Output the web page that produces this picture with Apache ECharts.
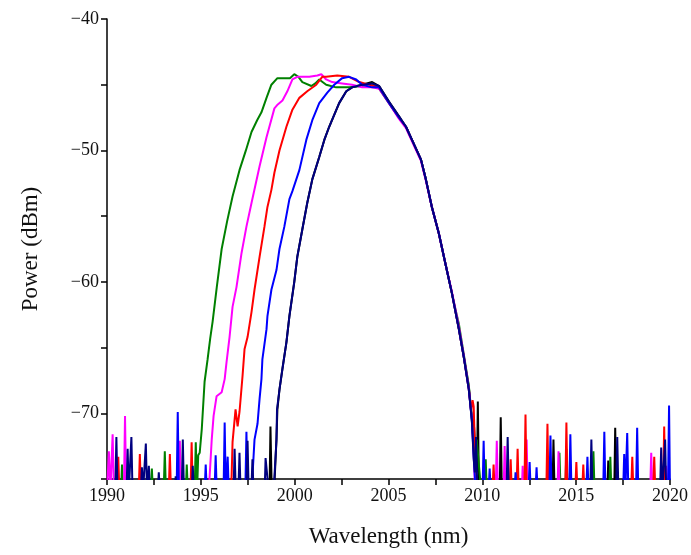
<!DOCTYPE html>
<html>
<head>
<meta charset="utf-8">
<script src="https://cdn.jsdelivr.net/npm/echarts@6/dist/echarts.min.js"></script>
<style>html,body{margin:0;padding:0;background:#fff;}#c{width:691px;height:555px;}</style>
</head>
<body>
<div id="c"></div>
<script>
// Axis settings / tick labels
const xTicks = [1990, 1995, 2000, 2005, 2010, 2015, 2020];
const yTickLabels = [-70, -60, -50, -40];

// Series data: [wavelength (nm), power (dBm)]; -76 = noise floor below the visible axis
const blackData = [
  [1990.0,-76],[1998.66,-76],[1998.71,-71.0],[1998.78,-76],[1998.9,-76],
  [1998.95,-74.5],[1999.03,-72.0],[1999.08,-69.7],[1999.19,-68.2],[1999.35,-66.6],[1999.56,-64.6],
  [1999.72,-62.6],[1999.98,-60.0],[2000.14,-58.1],[2000.41,-56.0],[2000.67,-54.0],[2000.94,-52.2],
  [2001.31,-50.5],[2001.58,-49.2],[2001.84,-48.2],[2002.37,-46.4],[2002.75,-45.5],[2003.06,-45.2],
  [2003.6,-45.0],[2004.13,-44.8],[2004.5,-45.1],[2005.03,-46.3],[2005.56,-47.4],[2005.93,-48.2],
  [2006.25,-49.2],[2006.73,-50.7],[2006.99,-52.2],[2007.31,-54.3],[2007.68,-56.3],[2008.06,-58.8],
  [2008.37,-60.8],[2008.75,-63.6],[2009.01,-65.7],[2009.28,-68.0],[2009.44,-70.2],[2009.55,-70.8],
  [2009.65,-73.5],[2009.72,-74.5],[2009.76,-69.1],[2009.82,-76],[2010.93,-76],[2010.98,-70.3],
  [2011.04,-76],[2013.74,-76],[2013.79,-72.0],[2013.85,-76],[2016.66,-76],[2016.71,-73.6],
  [2016.77,-76],[2017.03,-76],[2017.08,-71.1],[2017.14,-76],[2020.0,-76]
];
const greenData = [
  [1990.0,-76],[1990.75,-76],[1990.8,-73.9],[1990.86,-76],[1992.33,-76],[1992.39,-74.2],[1992.45,-76],
  [1993.02,-76],[1993.08,-72.9],[1993.14,-76],[1994.2,-76],[1994.25,-73.9],[1994.31,-76],
  [1994.67,-76],[1994.73,-72.2],[1994.8,-76],[1994.86,-73.2],[1994.94,-73.0],[1995.05,-71.2],
  [1995.2,-67.6],[1995.36,-65.9],[1995.5,-64.3],[1995.63,-63.0],[1995.85,-60.4],[1996.11,-57.5],
  [1996.4,-55.4],[1996.69,-53.5],[1997.06,-51.5],[1997.4,-50.0],[1997.7,-48.6],[1998.0,-47.7],
  [1998.23,-47.1],[1998.5,-46.0],[1998.76,-45.0],[1999.08,-44.5],[1999.3,-44.5],[1999.56,-44.5],
  [1999.75,-44.5],[1999.98,-44.2],[2000.2,-44.4],[2000.41,-44.8],[2000.89,-45.1],[2001.1,-44.9],
  [2001.31,-44.6],[2001.68,-45.0],[2002.21,-45.2],[2002.9,-45.2],[2003.6,-45.1],[2004.13,-44.9],
  [2004.5,-45.3],[2005.03,-46.4],[2005.56,-47.5],[2005.93,-48.2],[2006.25,-49.2],[2006.73,-50.7],
  [2006.99,-52.2],[2007.31,-54.3],[2007.68,-56.3],[2008.06,-58.8],[2008.37,-60.8],[2008.6,-62.3],
  [2008.75,-63.2],[2009.01,-65.5],[2009.28,-67.9],[2009.44,-70.5],[2009.55,-72.5],[2009.7,-72.0],
  [2009.85,-74.5],[2009.95,-76],[2010.12,-76],[2010.18,-73.5],[2010.24,-76],[2014.05,-76],
  [2014.11,-73.0],[2014.17,-76],[2014.42,-76],[2014.48,-72.7],[2014.54,-76],[2015.86,-76],
  [2015.92,-72.9],[2015.98,-76],[2016.76,-76],[2016.82,-73.3],[2016.88,-76],[2020.0,-76]
];
const magentaData = [
  [1990.0,-76],[1990.05,-76],[1990.1,-72.9],[1990.18,-76],[1990.24,-76],[1990.3,-71.6],[1990.37,-76],
  [1990.9,-76],[1990.96,-70.2],[1991.02,-76],[1993.83,-76],[1993.88,-72.1],[1993.94,-76],
  [1995.42,-76],[1995.47,-74.8],[1995.58,-72.0],[1995.68,-70.2],[1995.84,-68.7],[1996.11,-68.4],
  [1996.27,-67.4],[1996.37,-66.1],[1996.53,-64.2],[1996.69,-61.9],[1996.9,-60.4],[1997.17,-57.8],
  [1997.43,-55.8],[1997.7,-54.0],[1998.13,-51.2],[1998.5,-49.0],[1998.92,-46.8],[1999.1,-46.5],
  [1999.35,-46.2],[1999.61,-45.5],[1999.88,-44.6],[2000.14,-44.4],[2000.78,-44.4],[2001.21,-44.3],
  [2001.42,-44.2],[2001.68,-44.6],[2002.0,-44.8],[2002.53,-44.9],[2003.06,-45.0],[2003.6,-45.2],
  [2004.13,-45.2],[2004.5,-45.3],[2005.03,-46.4],[2005.56,-47.6],[2005.93,-48.3],[2006.25,-49.3],
  [2006.73,-50.8],[2006.99,-52.3],[2007.31,-54.3],[2007.68,-56.3],[2008.06,-58.8],[2008.37,-60.7],
  [2008.75,-63.4],[2009.01,-65.6],[2009.28,-68.1],[2009.44,-70.4],[2009.54,-73.0],[2009.62,-76],
  [2010.71,-76],[2010.77,-72.1],[2010.83,-76],[2011.13,-76],[2011.19,-72.5],[2011.25,-76],
  [2012.1,-76],[2012.15,-74.0],[2012.22,-76],[2012.3,-76],[2012.36,-72.0],[2012.42,-76],
  [2014.0,-76],[2014.06,-72.9],[2014.12,-76],[2018.94,-76],[2019.0,-73.0],[2019.06,-76],
  [2019.73,-76],[2019.79,-74.0],[2019.85,-76],[2020.0,-76]
];
const redData = [
  [1990.0,-76],[1990.55,-76],[1990.6,-73.3],[1990.66,-76],[1991.69,-76],[1991.75,-73.1],[1991.81,-76],
  [1993.29,-76],[1993.35,-73.1],[1993.41,-76],[1994.45,-76],[1994.51,-72.2],[1994.57,-76],
  [1996.58,-76],[1996.64,-74.8],[1996.69,-72.2],[1996.85,-69.7],[1996.96,-71.0],[1997.06,-69.9],
  [1997.22,-67.2],[1997.33,-65.1],[1997.49,-64.2],[1997.7,-62.3],[1997.86,-60.6],[1998.13,-58.1],
  [1998.39,-55.8],[1998.55,-54.3],[1998.76,-53.0],[1998.92,-51.7],[1999.19,-50.0],[1999.56,-48.2],
  [1999.88,-46.9],[2000.25,-46.0],[2000.67,-45.5],[2001.15,-45.0],[2001.47,-44.4],[2001.68,-44.4],
  [2002.27,-44.3],[2002.9,-44.4],[2003.44,-44.8],[2003.97,-45.0],[2004.5,-45.2],[2005.03,-46.4],
  [2005.56,-47.5],[2005.93,-48.2],[2006.25,-49.2],[2006.73,-50.7],[2006.99,-52.2],[2007.31,-54.3],
  [2007.68,-56.3],[2008.06,-58.8],[2008.37,-60.8],[2008.75,-63.6],[2009.01,-65.7],[2009.28,-68.2],
  [2009.4,-69.8],[2009.48,-69.0],[2009.54,-69.5],[2009.6,-72.5],[2009.7,-76],[2010.54,-76],
  [2010.6,-73.9],[2010.66,-76],[2011.45,-76],[2011.51,-73.5],[2011.57,-76],[2011.82,-76],
  [2011.88,-72.7],[2011.94,-76],[2012.24,-76],[2012.3,-70.1],[2012.36,-76],[2013.41,-76],
  [2013.47,-70.8],[2013.53,-76],[2014.42,-76],[2014.48,-70.7],[2014.54,-76],[2014.95,-76],
  [2015.01,-73.7],[2015.07,-76],[2015.32,-76],[2015.38,-73.9],[2015.44,-76],[2017.93,-76],
  [2017.99,-73.3],[2018.05,-76],[2019.1,-76],[2019.16,-73.3],[2019.22,-76],[2019.63,-76],
  [2019.69,-71.0],[2019.75,-76],[2020.0,-76]
];
const blueData = [
  [1990.0,-76],[1993.71,-76],[1993.77,-69.9],[1993.83,-76],[1995.2,-76],[1995.26,-73.9],[1995.32,-76],
  [1995.73,-76],[1995.79,-73.2],[1995.85,-76],[1996.21,-76],[1996.27,-70.7],[1996.33,-76],
  [1996.37,-76],[1996.43,-73.3],[1996.49,-76],[1997.37,-76],[1997.43,-71.4],[1997.49,-76],
  [1997.7,-76],[1997.75,-74.8],[1997.86,-72.0],[1998.02,-70.8],[1998.13,-68.9],[1998.23,-67.4],
  [1998.28,-65.9],[1998.5,-63.6],[1998.55,-62.6],[1998.76,-60.6],[1999.03,-59.1],[1999.19,-57.5],
  [1999.45,-55.8],[1999.72,-53.7],[1999.88,-53.1],[2000.25,-51.5],[2000.62,-49.2],[2000.94,-47.7],
  [2001.31,-46.4],[2001.74,-45.6],[2002.11,-45.0],[2002.53,-44.5],[2002.9,-44.4],[2003.28,-44.6],
  [2003.6,-45.0],[2004.13,-45.2],[2004.5,-45.2],[2005.03,-46.4],[2005.56,-47.5],[2005.93,-48.2],
  [2006.25,-49.2],[2006.73,-50.7],[2006.99,-52.2],[2007.31,-54.3],[2007.68,-56.3],[2008.06,-58.8],
  [2008.37,-60.8],[2008.75,-63.6],[2009.01,-65.7],[2009.28,-68.2],[2009.44,-70.5],[2009.56,-73.8],
  [2009.65,-76],[2010.01,-76],[2010.07,-72.1],[2010.13,-76],[2010.33,-76],[2010.39,-74.2],
  [2010.45,-76],[2011.71,-76],[2011.77,-74.5],[2011.83,-76],[2012.46,-76],[2012.52,-73.7],
  [2012.58,-76],[2012.83,-76],[2012.89,-74.1],[2012.95,-76],[2013.57,-76],[2013.63,-71.7],
  [2013.69,-76],[2014.63,-76],[2014.69,-71.6],[2014.75,-76],[2015.54,-76],[2015.6,-73.3],
  [2015.66,-76],[2016.44,-76],[2016.5,-71.4],[2016.56,-76],[2017.5,-76],[2017.56,-73.1],
  [2017.62,-76],[2017.66,-76],[2017.72,-71.5],[2017.78,-76],[2018.19,-76],[2018.25,-71.1],
  [2018.31,-76],[2019.89,-76],[2019.95,-69.4],[2020.0,-76]
];
const navyData = [
  [1990.0,-76],[1990.44,-76],[1990.5,-71.8],[1990.56,-76],[1991.04,-76],[1991.1,-72.7],[1991.16,-76],
  [1991.24,-76],[1991.3,-71.8],[1991.36,-76],[1991.8,-76],[1991.86,-74.1],[1991.92,-76],
  [1992.01,-76],[1992.07,-72.3],[1992.13,-76],[1992.17,-76],[1992.23,-74.0],[1992.29,-76],
  [1992.7,-76],[1992.76,-74.5],[1992.82,-76],[1993.6,-76],[1993.66,-74.8],[1993.72,-76],
  [1993.98,-76],[1994.04,-72.0],[1994.1,-76],[1994.51,-76],[1994.57,-74.0],[1994.63,-76],
  [1996.74,-76],[1996.8,-72.7],[1996.86,-76],[1997.0,-76],[1997.06,-73.0],[1997.12,-76],
  [1997.43,-76],[1997.49,-72.1],[1997.55,-76],[1997.69,-76],[1997.75,-73.5],[1997.81,-76],
  [1998.4,-76],[1998.45,-73.4],[1998.55,-73.3],[1998.62,-76],[1998.88,-76],[1998.92,-74.9],
  [1999.03,-72.0],[1999.06,-69.7],[1999.19,-68.2],[1999.35,-66.6],[1999.56,-64.6],[1999.72,-62.6],
  [1999.98,-60.0],[2000.14,-58.1],[2000.41,-56.0],[2000.67,-54.0],[2000.94,-52.2],[2001.31,-50.5],
  [2001.58,-49.2],[2001.84,-48.2],[2002.37,-46.4],[2002.75,-45.5],[2003.06,-45.2],[2003.6,-45.0],
  [2004.13,-44.9],[2004.5,-45.1],[2005.03,-46.3],[2005.56,-47.4],[2005.93,-48.2],[2006.25,-49.2],
  [2006.73,-50.7],[2006.99,-52.2],[2007.31,-54.3],[2007.68,-56.3],[2008.06,-58.8],[2008.37,-60.8],
  [2008.75,-63.6],[2009.01,-65.7],[2009.28,-68.2],[2009.44,-70.5],[2009.54,-73.5],[2009.6,-74.5],
  [2009.66,-71.8],[2009.74,-76],[2011.29,-76],[2011.35,-71.8],[2011.41,-76],[2015.75,-76],
  [2015.81,-72.0],[2015.87,-76],[2017.13,-76],[2017.19,-71.8],[2017.25,-76],[2019.47,-76],
  [2019.53,-72.6],[2019.59,-76],[2019.68,-76],[2019.74,-72.0],[2019.8,-76],[2020.0,-76]
];

const seriesDefs = [
  { name: 'black', color: '#000000', data: blackData },
  { name: 'green', color: '#008000', data: greenData },
  { name: 'magenta', color: '#ff00ff', data: magentaData },
  { name: 'red', color: '#ff0000', data: redData },
  { name: 'blue', color: '#0000ff', data: blueData },
  { name: 'navy', color: '#000080', data: navyData }
];

const FONT = '"Liberation Serif", "Times New Roman", serif';
const chart = echarts.init(document.getElementById('c'), null, { renderer: 'canvas' });
chart.setOption({
  animation: false,
  backgroundColor: '#ffffff',
  grid: { left: 107, right: 19, top: 19, bottom: 76, containLabel: false },
  xAxis: {
    type: 'value', min: 1990, max: 2020, interval: 5,
    name: 'Wavelength (nm)', nameLocation: 'middle', nameGap: 46,
    nameTextStyle: { fontFamily: FONT, fontSize: 23, color: '#111' },
    axisLine: { show: true, onZero: false, lineStyle: { color: '#000', width: 1.5 } },
    axisTick: { show: true, inside: false, length: 6, lineStyle: { color: '#000', width: 1.5 } },
    minorTick: { show: true, splitNumber: 2, length: 6, lineStyle: { color: '#000', width: 1.5 } },
    axisLabel: { fontFamily: FONT, fontSize: 18, color: '#111', margin: 8,
      formatter: v => xTicks.includes(v) ? String(v) : '' },
    splitLine: { show: false }
  },
  yAxis: {
    type: 'value', min: -75, max: -40, interval: 5,
    name: 'Power (dBm)', nameLocation: 'middle', nameGap: 65, nameRotate: 90,
    nameTextStyle: { fontFamily: FONT, fontSize: 23, color: '#111' },
    axisLine: { show: true, onZero: false, lineStyle: { color: '#000', width: 1.5 } },
    axisTick: { show: true, inside: false, length: 6, lineStyle: { color: '#000', width: 1.5 } },
    axisLabel: { fontFamily: FONT, fontSize: 18, color: '#111', margin: 8,
      formatter: v => yTickLabels.includes(v) ? String(v).replace('-', '\u2212') : '' },
    splitLine: { show: false }
  },
  series: seriesDefs.map(s => ({
    name: s.name, type: 'line', data: s.data, showSymbol: false, symbol: 'none',
    clip: true, lineStyle: { color: s.color, width: 2 }, itemStyle: { color: s.color },
    z: 3
  }))
});
</script>
</body>
</html>
